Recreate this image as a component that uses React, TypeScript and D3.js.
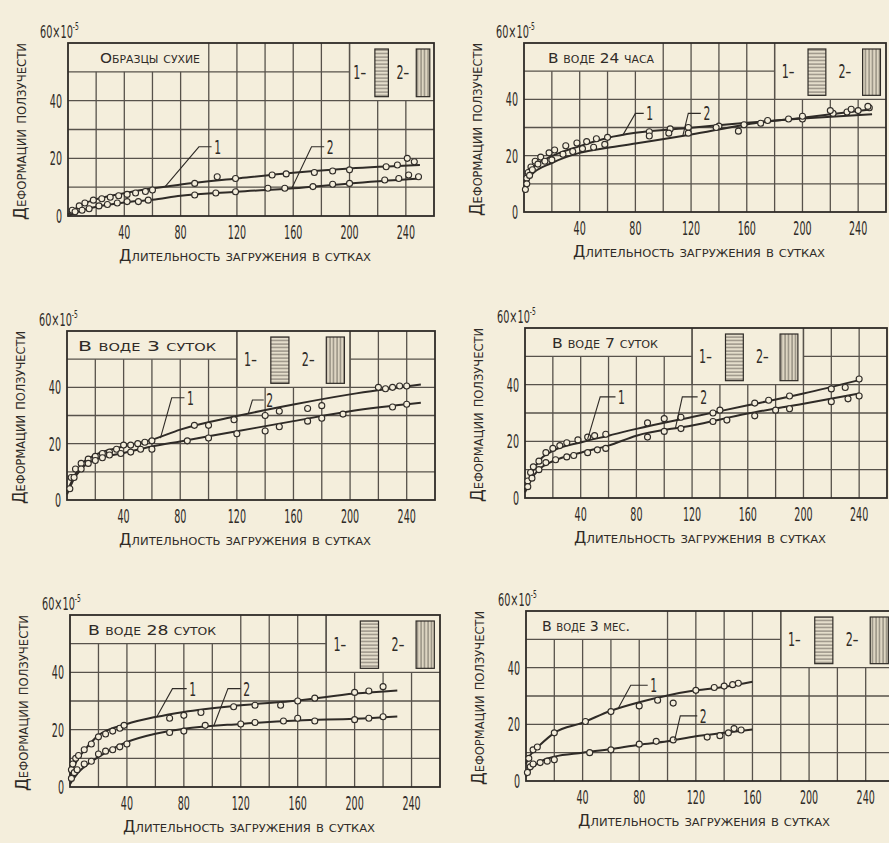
import React from 'react';
import * as d3 from 'd3';

type Pt = [number, number];

// --- data (days, deformation ×10^-5) ---
const p1Fit1: Pt[] = [[0, 0.5], [10, 4], [20, 5.8], [40, 7.9], [60, 9.6], [80, 10.9], [120, 13], [160, 15], [200, 16.5], [250, 17.7]];
const p1Fit2: Pt[] = [[0, 0], [10, 2], [20, 3.2], [40, 4.7], [60, 5.6], [80, 7], [120, 8.4], [160, 9.6], [200, 11.3], [250, 13]];
const p1Pts1: Pt[] = [[3, 2], [8, 3.5], [12, 4.5], [18, 5.5], [24, 6], [30, 6.5], [36, 7], [42, 7.5], [48, 8], [55, 8.5], [60, 9], [90, 11.3], [106, 13.6], [119, 13], [145, 14.2], [155, 14.6], [175, 15.1], [188, 15.6], [200, 16], [226, 17.1], [234, 17.7], [241, 20], [246, 18.8]];
const p1Pts2: Pt[] = [[5, 1.5], [10, 2], [15, 2.5], [22, 3.5], [28, 4], [35, 4.5], [42, 5], [50, 5], [57, 5.5], [90, 7.3], [105, 8], [119, 8.4], [142, 9.6], [154, 9.6], [174, 10.2], [188, 11], [200, 11.3], [225, 12.5], [235, 13], [242, 14.2], [249, 13.6]];

const p2Fit1: Pt[] = [[0, 8], [5, 15], [20, 19.8], [40, 23.4], [60, 26.3], [80, 28.1], [120, 29.9], [160, 31.7], [200, 33.2], [250, 34.7]];
const p2Fit2: Pt[] = [[0, 7], [5, 13], [20, 17.4], [40, 21], [60, 22.8], [80, 24.3], [120, 27.5], [160, 31.1], [200, 33.5], [250, 36.5]];
const p2Pts1: Pt[] = [[1, 8], [2, 12], [3, 14], [5, 16], [8, 18], [12, 19.5], [18, 21], [22, 22], [30, 23.5], [38, 24.5], [45, 25], [52, 26], [60, 26.5], [90, 28.5], [105, 29.5], [118, 30], [140, 30.5], [158, 31], [175, 32.5], [190, 33], [200, 33], [222, 35], [232, 35.5], [240, 36], [248, 37]];
const p2Pts2: Pt[] = [[2, 10], [4, 13], [6, 15], [10, 17], [15, 18], [20, 18.5], [28, 20.5], [35, 21.5], [42, 22.5], [50, 23], [58, 24], [90, 27], [104, 28], [118, 28], [138, 30], [154, 28.7], [170, 31.5], [200, 34], [220, 36], [235, 36.5], [247, 37.5]];

const p3Fit1: Pt[] = [[0, 3], [5, 8.3], [10, 12.5], [20, 16], [40, 19], [60, 21.4], [80, 25], [120, 29.8], [160, 33.9], [200, 37.5], [250, 41]];
const p3Fit2: Pt[] = [[0, 2], [5, 7.5], [10, 11], [20, 14.3], [40, 16.7], [60, 19], [80, 20.8], [120, 24.4], [160, 28], [200, 31.5], [250, 34.5]];
const p3Pts1: Pt[] = [[3, 8], [6, 11], [10, 13], [15, 14.5], [20, 15.5], [25, 16.5], [30, 17], [35, 18], [40, 19.5], [45, 19.5], [50, 20], [55, 20.5], [60, 21], [90, 26.5], [100, 26.5], [118, 28.5], [140, 30], [150, 31.5], [170, 32.5], [180, 33.5], [220, 40], [225, 39.5], [230, 40], [235, 40.5], [240, 40.5]];
const p3Pts2: Pt[] = [[2, 4], [5, 8], [10, 11], [15, 13], [20, 14], [25, 15], [30, 16], [38, 16.5], [45, 17], [52, 18], [60, 18], [85, 21], [100, 22], [120, 23.5], [140, 24.5], [150, 26], [170, 28], [180, 29], [195, 30.5], [230, 33], [240, 34]];

const p4Fit1: Pt[] = [[0, 3], [5, 8.9], [10, 13], [20, 16.6], [40, 19.6], [60, 22], [80, 24.4], [120, 28.6], [160, 32.7], [200, 36.9], [240, 41.6]];
const p4Fit2: Pt[] = [[0, 2], [5, 7], [10, 10], [20, 13], [40, 16], [60, 18.5], [80, 22], [120, 25.6], [160, 29.8], [200, 33.3], [240, 36.9]];
const p4Pts1: Pt[] = [[2, 6], [4, 9], [6, 11], [10, 13], [15, 16], [20, 17.5], [25, 18.5], [30, 19.5], [38, 20.5], [45, 21.5], [50, 22], [58, 22.5], [88, 26.5], [100, 28], [112, 28.5], [135, 30], [140, 31], [165, 33.5], [175, 34.5], [190, 36], [220, 38.5], [230, 39], [240, 42]];
const p4Pts2: Pt[] = [[2, 4], [5, 7], [10, 10], [15, 12.5], [22, 13.5], [30, 14.5], [35, 15], [45, 16], [52, 17], [58, 17.5], [88, 21.5], [100, 23.5], [112, 24.5], [135, 27], [145, 27.5], [165, 29], [180, 31], [190, 31.5], [220, 34], [232, 35], [240, 36]];

const p5Fit1: Pt[] = [[0, 4], [5, 9.3], [10, 12.7], [20, 18], [40, 22], [60, 24.4], [80, 26.2], [120, 28.5], [160, 30.2], [200, 32.6], [230, 33.7]];
const p5Fit2: Pt[] = [[0, 1], [5, 4.6], [10, 7], [20, 10.5], [40, 15.7], [60, 18.6], [80, 20.3], [120, 22], [160, 23.2], [200, 23.8], [230, 24.6]];
const p5Pts1: Pt[] = [[1, 6], [2, 8], [4, 10], [6, 11], [10, 13], [15, 15], [20, 17.5], [25, 18.5], [30, 19.5], [35, 20.5], [38, 21.5], [70, 24], [80, 25], [92, 26], [115, 28], [130, 28.5], [148, 28.5], [160, 30], [172, 31], [200, 33], [210, 33.5], [220, 35]];
const p5Pts2: Pt[] = [[1, 3], [3, 5], [5, 6], [10, 8], [15, 9], [20, 11.5], [25, 12.5], [30, 13], [35, 14], [40, 15], [70, 19], [80, 19.5], [95, 21.5], [120, 22], [130, 22.5], [150, 23], [160, 24], [172, 23], [200, 23.5], [210, 24], [220, 24.5]];

const p6Fit1: Pt[] = [[0, 6], [1, 7.4], [5, 10.4], [10, 12.8], [20, 17], [40, 20.6], [60, 24.8], [80, 27.8], [100, 30.2], [120, 32], [140, 33.2], [160, 35]];
const p6Fit2: Pt[] = [[0, 1.5], [1, 2.6], [10, 6.8], [20, 8.6], [40, 10], [60, 11.3], [80, 12.8], [100, 14], [120, 15.8], [140, 17], [160, 18.2]];
const p6Pts1: Pt[] = [[2, 8], [5, 11], [8, 12], [20, 17], [42, 21], [60, 24.5], [80, 26.5], [93, 28.5], [104, 27.5], [120, 32], [133, 33], [140, 33.5], [146, 34], [150, 34.5]];
const p6Pts2: Pt[] = [[1, 3], [3, 5], [5, 6], [10, 6.5], [15, 7], [20, 7.5], [45, 10], [60, 11], [80, 13], [92, 14], [104, 14.5], [128, 15.5], [137, 16], [143, 17], [147, 18.5], [152, 18]];

const panelTitles = ['Образцы сухие', 'В воде 24 часа', 'В воде 3 суток', 'В воде 7 суток', 'В воде 28 суток', 'В воде 3 мес.'];
const yLabel = 'Деформации ползучести';
const xLabel = 'Длительность загружения в сутках';
const xTicks = [40, 80, 120, 160, 200, 240];
const yTicks = [0, 20, 40];
const gridDays = [20, 40, 60, 80, 100, 120, 140, 160, 180, 200, 220, 240];
const gridVals = [10, 20, 30, 40, 50];

// leader lines: anchor [day,val], elbow [day,val], end day
const leaders1 = [
  { a: [69, 10.2], e: [93, 24], end: 102 },
  { a: [71, 27.3], e: [80, 35], end: 86 },
  { a: [66, 22], e: [74, 36.3], end: 83 },
  { a: [45, 20.8], e: [54, 35.7], end: 65 },
  { a: [61, 24.5], e: [72, 34.3], end: 82 },
  { a: [65, 25.5], e: [74, 33.8], end: 86 },
];
const leaders2 = [
  { a: [159, 9.6], e: [173, 24], end: 182 },
  { a: [114, 26.9], e: [118, 35], end: 127 },
  { a: [128, 30.5], e: [131, 35.5], end: 139 },
  { a: [108, 24.6], e: [113, 35.7], end: 124 },
  { a: [101, 21.3], e: [111, 34.3], end: 120 },
  { a: [105, 14.3], e: [109, 23], end: 121 },
];

const fits = [[p1Fit1, p1Fit2], [p2Fit1, p2Fit2], [p3Fit1, p3Fit2], [p4Fit1, p4Fit2], [p5Fit1, p5Fit2], [p6Fit1, p6Fit2]];
const pts = [[p1Pts1, p1Pts2], [p2Pts1, p2Pts2], [p3Pts1, p3Pts2], [p4Pts1, p4Pts2], [p5Pts1, p5Pts2], [p6Pts1, p6Pts2]];

// --- layout ---
const layout = [
  { left: 68, top: 43, w: 366, h: 173, titleTo: 100, legFrom: 200, legTo: 260, tx: 32, tl: 100 },
  { left: 524, top: 43, w: 362, h: 169, titleTo: 100, legFrom: 180, legTo: 260, tx: 24, tl: 106 },
  { left: 67, top: 331, w: 368, h: 169, titleTo: 120, legFrom: 120, legTo: 200, tx: 11, tl: 138 },
  { left: 525, top: 328, w: 362, h: 170, titleTo: 120, legFrom: 120, legTo: 200, tx: 27, tl: 106 },
  { left: 70, top: 615, w: 370, h: 172, titleTo: 120, legFrom: 180, legTo: 260, tx: 18, tl: 128 },
  { left: 526, top: 611, w: 368, h: 170, titleTo: 100, legFrom: 180, legTo: 260, tx: 16, tl: 88 },
];

const BG = '#f4eedc';
const INK = '#2f2b27';
const GRID = '#57524b';
const FONT = '"DejaVu Sans Condensed", "Liberation Sans Narrow", "DejaVu Sans", sans-serif';

const Narrow = ({ x, y, size, anchor = 'middle', sx = 0.6, children }: any) => (
  <g transform={`translate(${x},${y}) scale(${sx},1)`}>
    <text textAnchor={anchor} fontSize={size} fill={INK} fontFamily={FONT}>{children}</text>
  </g>
);

const Panel = ({ i }: { i: number }) => {
  const L = layout[i];
  const x = d3.scaleLinear().domain([0, 260]).range([L.left, L.left + L.w]);
  const y = d3.scaleLinear().domain([0, 60]).range([L.top + L.h, L.top]);
  const line = d3.line<Pt>().x(d => x(d[0])).y(d => y(d[1])).curve(d3.curveMonotoneX);
  const lgx0 = x(L.legFrom);
  const lgW = x(L.legTo) - lgx0;
  const lgTop = y(60);
  const lgBot = y(40);
  const ldr = [leaders1[i], leaders2[i]];

  return (
    <g>
      {/* vertical grid */}
      {gridDays.map(d => {
        let top = y(60);
        if (d < L.titleTo) top = y(50);
        if (d > L.legFrom && d < L.legTo) top = y(40);
        return <line key={'v' + d} x1={x(d)} x2={x(d)} y1={y(0)} y2={top} stroke={GRID} strokeWidth={1.3} />;
      })}
      {/* horizontal grid */}
      {gridVals.map(v => {
        if (v === 50) {
          return (
            <g key={'h' + v}>
              <line x1={x(0)} x2={x(L.legFrom)} y1={y(v)} y2={y(v)} stroke={GRID} strokeWidth={1.3} />
              {L.legTo < 260 && <line x1={x(L.legTo)} x2={x(260)} y1={y(v)} y2={y(v)} stroke={GRID} strokeWidth={1.3} />}
            </g>
          );
        }
        return <line key={'h' + v} x1={x(0)} x2={x(260)} y1={y(v)} y2={y(v)} stroke={GRID} strokeWidth={1.3} />;
      })}
      {/* legend box edges */}
      <line x1={lgx0} x2={lgx0} y1={lgTop} y2={lgBot} stroke={GRID} strokeWidth={1.3} />
      {L.legTo < 260 && <line x1={x(L.legTo)} x2={x(L.legTo)} y1={lgTop} y2={lgBot} stroke={GRID} strokeWidth={1.3} />}
      {/* frame */}
      <rect x={x(0)} y={y(60)} width={L.w} height={L.h} fill="none" stroke={INK} strokeWidth={1.8} />

      {/* title */}
      <text x={L.left + L.tx} y={y(60) + 20} fontSize={14} fill={INK} fontFamily={FONT}
        style={{ fontVariant: 'small-caps' }} textLength={L.tl} lengthAdjust="spacingAndGlyphs">{panelTitles[i]}</text>

      {/* legend */}
      <Narrow x={lgx0 + 0.12 * lgW} y={(lgTop + lgBot) / 2 + 7} size={20} sx={0.62}>1–</Narrow>
      <rect x={lgx0 + 0.3 * lgW} y={lgTop + 6} width={0.16 * lgW} height={lgBot - lgTop - 10} fill="url(#hstripe)" stroke={INK} strokeWidth={1.2} />
      <Narrow x={lgx0 + 0.63 * lgW} y={(lgTop + lgBot) / 2 + 7} size={20} sx={0.62}>2–</Narrow>
      <rect x={lgx0 + 0.79 * lgW} y={lgTop + 6} width={0.16 * lgW} height={lgBot - lgTop - 10} fill="url(#vstripe)" stroke={INK} strokeWidth={1.2} />

      {/* fitted curves */}
      {fits[i].map((f, k) => <path key={'f' + k} d={line(f) || ''} fill="none" stroke={INK} strokeWidth={2} />)}
      {/* measured points */}
      {pts[i].map((s, k) => s.map((p, j) => (
        <circle key={'c' + k + '-' + j} cx={x(p[0])} cy={y(p[1])} r={3} fill={BG} stroke={INK} strokeWidth={1.1} />
      )))}

      {/* leaders */}
      {ldr.map((l, k) => (
        <g key={'l' + k}>
          <polyline points={`${x(l.a[0])},${y(l.a[1])} ${x(l.e[0])},${y(l.e[1])} ${x(l.end)},${y(l.e[1])}`} fill="none" stroke={INK} strokeWidth={1.1} />
          <Narrow x={x(l.end) + 6} y={y(l.e[1]) + 7} size={20} sx={0.6}>{k === 0 ? '1' : '2'}</Narrow>
        </g>
      ))}

      {/* ticks */}
      {xTicks.map(d => <Narrow key={'xt' + d} x={x(d)} y={y(0) + 23} size={19} sx={0.56}>{d}</Narrow>)}
      {yTicks.map(v => <Narrow key={'yt' + v} x={x(0) - 6} y={y(v) + 7} size={19} sx={0.56} anchor="end">{v}</Narrow>)}
      <g transform={`translate(${x(0) - 28},${y(60) - 5}) scale(0.6,1)`}>
        <text fontSize={18} fill={INK} fontFamily={FONT}>60×10<tspan fontSize={11} dy={-8}>-5</tspan></text>
      </g>

      {/* axis titles */}
      <text transform={`translate(${L.left - 42},${L.top + L.h / 2 + 2}) rotate(-90)`} textAnchor="middle"
        fontSize={17} fill={INK} fontFamily={FONT} style={{ fontVariant: 'small-caps' }}
        textLength={L.h + 4} lengthAdjust="spacingAndGlyphs">{yLabel}</text>
      <text x={L.left + L.w / 2 - 6} y={y(0) + 45} textAnchor="middle" fontSize={15} fill={INK} fontFamily={FONT}
        style={{ fontVariant: 'small-caps' }} textLength={252} lengthAdjust="spacingAndGlyphs">{xLabel}</text>
    </g>
  );
};

const App = () => (
  <svg width={889} height={843} style={{ position: 'absolute', left: 0, top: 0, background: BG }}>
    <defs>
      <pattern id="hstripe" width={4} height={3.5} patternUnits="userSpaceOnUse">
        <rect width={4} height={3.5} fill="#e4ddcb" />
        <line x1={0} x2={4} y1={1} y2={1} stroke="#6b655c" strokeWidth={0.9} />
      </pattern>
      <pattern id="vstripe" width={3.5} height={4} patternUnits="userSpaceOnUse">
        <rect width={3.5} height={4} fill="#ddd5c2" />
        <line x1={1} x2={1} y1={0} y2={4} stroke="#6b655c" strokeWidth={0.9} />
      </pattern>
    </defs>
    <rect width={889} height={843} fill={BG} />
    {layout.map((_, i) => <Panel key={i} i={i} />)}
  </svg>
);

export default App;
